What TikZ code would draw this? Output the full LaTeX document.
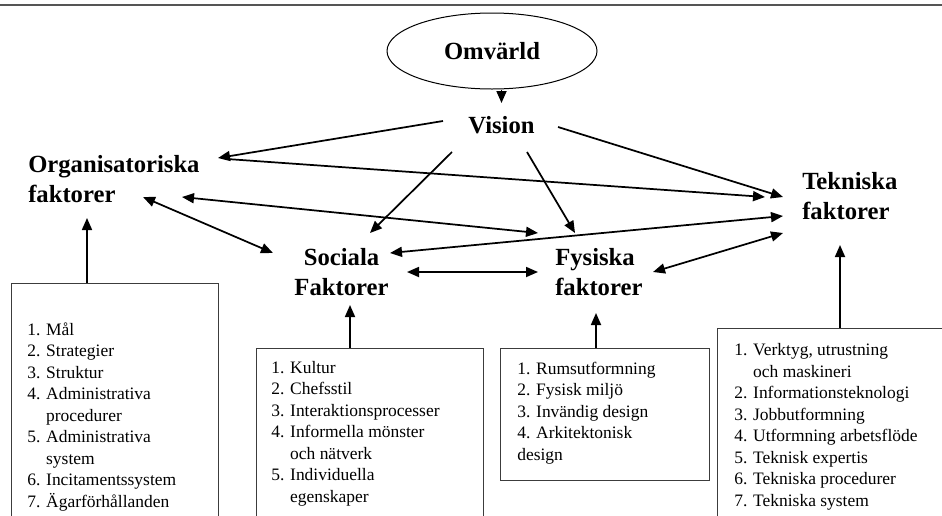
\documentclass[tikz,border=0pt]{standalone}
\usepackage{fontspec}
\setmainfont{Liberation Serif}
\usepackage{tikz}
\usetikzlibrary{arrows.meta}
\usetikzlibrary{calc}
\usetikzlibrary{shapes.geometric}

\tikzset{
  arr/.style={line width=1.3pt, -{Triangle[length=9pt,width=7.5pt]}},
  darr/.style={line width=1.3pt, {Triangle[length=9pt,width=7.5pt]}-{Triangle[length=9pt,width=7.5pt]}},
  factor/.style={font=\fontsize{18.5}{22.5}\selectfont\bfseries, inner sep=0pt, align=left},
  listbox/.style={draw={rgb, 255:red, 60; green, 60; blue, 60 }, line width=0.75pt, inner sep=0pt, outer sep=0pt, anchor=north west},
  listtext/.style={font=\fontsize{13.1}{16.1}\selectfont, inner sep=0pt, align=left, anchor=base west},
}

\begin{document}
\begin{tikzpicture}[x=0.75pt,y=0.75pt,yscale=-1,xscale=1]
\useasboundingbox (0,0) rectangle (942,515);
\clip (0,0) rectangle (942,515);

%Straight Lines: top rule
\draw [color={rgb, 255:red, 85; green, 85; blue, 85 }, line width=1.8pt] (0,5) -- (942,5);

%Shape: Ellipse
\node [draw, ellipse, line width=0.75pt, inner sep=0pt, minimum width=157.5pt, minimum height=57pt, font=\fontsize{18.5}{22.5}\selectfont\bfseries] (omv) at (492,51) {Omvärld};

%Text Nodes: factors (placed at the baseline of their last line)
\node [factor, anchor=base] (vis) at (501.5,133) {Vision};
\node [factor, anchor=base west] (org) at (28,202) {Organisatoriska\\faktorer};
\node [factor, anchor=base west] (tek) at (802,219) {Tekniska\\faktorer};
\node [factor, anchor=base, align=center] (soc) at (341.5,295) {Sociala\\Faktorer};
\node [factor, anchor=base west] (fys) at (555,295) {Fysiska\\faktorer};

%Shape: Rectangle (lists)
\node [listbox, minimum width=155.25pt, minimum height=192.75pt] (orgbox) at (11,283) {};
\node [listbox, minimum width=170.25pt, minimum height=144pt] (socbox) at (256,348) {};
\node [listbox, minimum width=156.75pt, minimum height=99pt] (fysbox) at (500,348) {};
\node [listbox, minimum width=182.25pt, minimum height=159pt] (tekbox) at (717,328) {};

%Text Nodes: lists
\node [listtext] (orglist) at (27,507) {1. Mål\\2. Strategier\\3. Struktur\\4. Administrativa\\\hphantom{4. }procedurer\\5. Administrativa\\\hphantom{5. }system\\6. Incitamentssystem\\7. Ägarförhållanden};
\node [listtext] (soclist) at (271,502) {1. Kultur\\2. Chefsstil\\3. Interaktionsprocesser\\4. Informella mönster\\\hphantom{4. }och nätverk\\5. Individuella\\\hphantom{5. }egenskaper};
\node [listtext] (fyslist) at (517,460) {1. Rumsutformning\\2. Fysisk miljö\\3. Invändig design\\4. Arkitektonisk\\design};
\node [listtext] (teklist) at (734,506) {1. Verktyg, utrustning\\\hphantom{1. }och maskineri\\2. Informationsteknologi\\3. Jobbutformning\\4. Utformning arbetsflöde\\5. Teknisk expertis\\6. Tekniska procedurer\\7. Tekniska system};

%Straight Lines: arrows
\draw [arr] ($(omv.south)+(9.5,0)$) -- ($(vis.base)+(0,-30)$);
\draw [arr] ($(vis.base)+(-58.5,-12)$) -- ($(org.base west)+(190,-44)$);
\draw [arr] ($(org.base west)+(199,-43)$) -- ($(tek.base west)+(-37,-22)$);
\draw [arr] ($(vis.base)+(56.5,-6)$) -- ($(tek.base west)+(-19,-22)$);
\draw [arr] ($(vis.base)+(-49.5,19)$) -- ($(soc.base)+(28.5,-62)$);
\draw [arr] ($(vis.base)+(25.5,19)$) -- ($(fys.base west)+(20,-62)$);
\draw [darr] ($(org.base west)+(154,-5)$) -- ($(fys.base west)+(-17,-62)$);
\draw [darr] ($(org.base west)+(115,-5)$) -- ($(soc.base)+(-68.5,-42)$);
\draw [darr] ($(soc.base)+(48.5,-42)$) -- ($(tek.base west)+(-19,-3)$);
\draw [darr] ($(soc.base)+(65.5,-23)$) -- ($(fys.base west)+(-17,-23)$);
\draw [darr] ($(fys.base west)+(98,-23)$) -- ($(tek.base west)+(-19,14)$);

%Straight Lines: from lists
\draw [arr] ($(orgbox.north west)+(76,0)$) -- ($(org.base west)+(59,16)$);
\draw [arr] ($(socbox.north west)+(94,0)$) -- ($(soc.base)+(8.5,10)$);
\draw [arr] ($(fysbox.north west)+(96,0)$) -- ($(fys.base west)+(41,18)$);
\draw [arr] ($(tekbox.north west)+(123,0)$) -- ($(tek.base west)+(38,26)$);

\end{tikzpicture}
\end{document}
